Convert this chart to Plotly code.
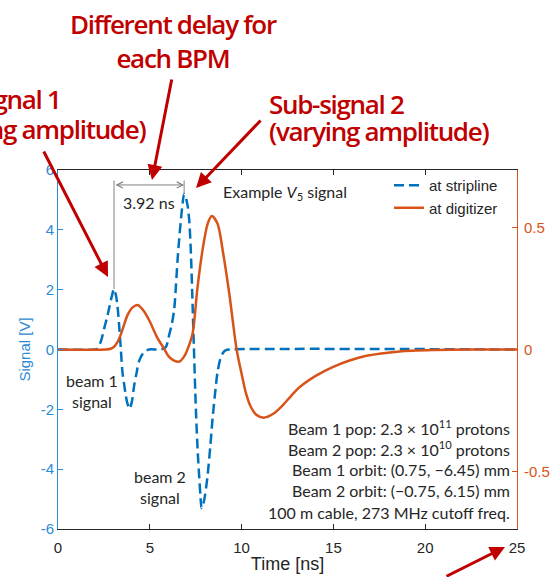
import plotly.graph_objects as go

# ---------------- data ----------------
stripline_t = [0.0, 2.0, 2.15, 2.35, 2.51, 2.65, 2.78, 2.92, 3.05, 3.16, 3.24, 3.33, 3.42,
               3.51, 3.6, 3.69, 3.78, 3.9, 4.02, 4.15, 4.29, 4.42, 4.69, 4.96, 5.6, 5.87,
               6.06, 6.2, 6.33, 6.42, 6.51, 6.6, 6.69, 6.78, 6.87, 6.95, 7.06, 7.15, 7.24,
               7.33, 7.4, 7.51, 7.6, 7.69, 7.76, 7.82, 7.9, 8.0, 8.15, 8.3, 8.42, 8.55,
               8.69, 8.85, 9.0, 9.15, 9.35, 25.0]
stripline_v = [0.0, 0.0, 0.03, 0.3, 0.69, 1.02, 1.36, 1.75, 2.02, 1.8, 1.45, 0.8, 0.03,
               -0.75, -1.15, -1.53, -1.8, -1.98, -1.75, -1.2, -0.75, -0.38, -0.08, 0.0, 0.0, 0.08,
               0.5, 0.85, 1.35, 2.1, 2.97, 3.7, 4.3, 4.85, 5.2, 5.1, 4.8, 4.3, 3.2,
               1.5, 0.1, -2.0, -3.3, -4.25, -4.9, -5.3, -5.2, -4.9, -4.2, -3.2, -2.3, -1.5,
               -0.75, -0.3, -0.1, -0.02, 0.0, 0.0]

digitizer_t = [0.0, 2.6, 2.87, 3.1, 3.33, 3.55, 3.78, 4.05, 4.36, 4.7, 5.0, 5.4, 5.78, 6.05,
               6.33, 6.6, 6.9, 7.1, 7.33, 7.6, 7.87, 8.15, 8.38, 8.69, 9.0, 9.33, 9.73, 10.0,
               10.24, 10.5, 10.8, 11.2, 11.7, 12.24, 12.7, 13.15, 14.06, 14.96, 15.88, 16.8,
               18.6, 20.5, 22.5, 25.0]
digitizer_v = [0.0, 0.0, 0.003, 0.015, 0.044, 0.09, 0.14, 0.172, 0.182, 0.155, 0.115, 0.05,
               0.003, -0.03, -0.046, -0.05, -0.025, 0.01, 0.065, 0.256, 0.407, 0.516, 0.548,
               0.516, 0.393, 0.229, 0.0, -0.1, -0.18, -0.235, -0.268, -0.28, -0.265, -0.229,
               -0.19, -0.155, -0.107, -0.072, -0.045, -0.026, -0.008, -0.002, 0.0, 0.0]

x_ticks = [0, 5, 10, 15, 20, 25]
y_ticks = [-6, -4, -2, 0, 2, 4, 6]
y_tick_text = ["-6", "-4", "-2", "0", "2", "4", "6"]
y2_ticks = [-0.5, 0, 0.5]
y2_tick_text = ["-0.5", "0", "0.5"]

delay_ns = 3.92
info_lines = [
    "Beam 1 pop: 2.3 × 10<sup>11</sup> protons",
    "Beam 2 pop: 2.3 × 10<sup>10</sup> protons",
    "Beam 1 orbit: (0.75, −6.45) mm",
    "Beam 2 orbit: (−0.75, 6.15) mm",
    "100 m cable, 273 MHz cutoff freq.",
]

# ---------------- styling ----------------
W, H = 552, 577
PL, PR, PT, PB = 58, 517, 170, 529
BLUE = "#0072BD"
BLUE_AX = "#2B8AD4"
ORANGE = "#D95319"
DARK = "#262626"
RED = "#C00000"
GRAY = "#808080"
AX_FONT = "Liberation Sans, Arial, sans-serif"
TXT_FONT = "Lato, 'Open Sans', sans-serif"
RED_FONT = "'Open Sans', sans-serif"


def fx(px):
    return (px - PL) / (PR - PL)


def fy(py):
    return (PB - py) / (PB - PT)


fig = go.Figure()
fig.add_trace(go.Scatter(x=stripline_t, y=stripline_v, mode="lines", name="at stripline",
                         line=dict(color=BLUE, width=2.5, dash="10px,5px", shape="spline",
                                   smoothing=0.8), yaxis="y"))
fig.add_trace(go.Scatter(x=digitizer_t, y=digitizer_v, mode="lines", name="at digitizer",
                         line=dict(color=ORANGE, width=2.5, shape="spline", smoothing=0.8),
                         yaxis="y2"))

# peaks of the stripline signal (from data)
i1 = max((i for i, t in enumerate(stripline_t) if t < 5), key=lambda i: stripline_v[i])
i2 = max((i for i, t in enumerate(stripline_t) if t >= 5), key=lambda i: stripline_v[i])
t1, v1 = stripline_t[i1], stripline_v[i1]
t2, v2 = stripline_t[i2], stripline_v[i2]
dim_y = 5.5

shapes = [
    dict(type="line", xref="x", yref="y", x0=t1, x1=t1, y0=v1, y1=5.65,
         line=dict(color=GRAY, width=1)),
    dict(type="line", xref="x", yref="y", x0=t2, x1=t2, y0=v2, y1=5.65,
         line=dict(color=GRAY, width=1)),
]

annotations = []


def label(px, py, text, size=16, anchor="center", color=DARK, family=TXT_FONT, weight=None,
          align="center"):
    f = dict(family=family, size=size, color=color)
    if weight:
        f["weight"] = weight
    annotations.append(dict(x=fx(px), y=fy(py), xref="paper", yref="paper", xanchor=anchor,
                            yanchor="middle", text=text, showarrow=False, font=f,
                            align=align))


# dimension arrow
annotations.append(dict(x=t2, y=dim_y, ax=t1, ay=dim_y, xref="x", yref="y", axref="x",
                        ayref="y", text="", showarrow=True, arrowhead=5, startarrowhead=5,
                        arrowside="end+start", arrowwidth=1, arrowsize=1.2, arrowcolor=GRAY))
label(149, 202, f"{delay_ns:.2f} ns")
label(221, 192, "Example <i>V</i><sub>5</sub> signal", anchor="left")
label(92, 391, "beam 1<br>signal")
label(160, 487, "beam 2<br>signal")
for k, line in enumerate(info_lines):
    label(512, 427 + k * 21.3, line, anchor="right")

# red callouts (two-line blocks; nominal size sets the line spacing)
RED_STYLE = "letter-spacing:-1.3px;font-size:26px"
red_blocks = [
    (("Different delay for", "each BPM"), 173, 41, "center", 26),
    (("Sub-signal 1", "(varying amplitude)"), -76, 114, "left", 23),
    (("Sub-signal 2", "(varying amplitude)"), 267, 118, "left", 21),
]
for lines, px, py, anc, nominal in red_blocks:
    txt = "<br>".join(f'<span style="{RED_STYLE}">{s}</span>' for s in lines)
    label(px, py, txt, size=nominal, anchor=anc, color=RED, family=RED_FONT, weight=600,
          align=anc)

red_arrows = [
    (108, 277, -65, -127),
    (152, 180, 20, -102),
    (196, 188, 66, -69),
    (505, 547, -60, 35),
]
for px, py, ax, ay in red_arrows:
    annotations.append(dict(x=fx(px), y=fy(py), xref="paper", yref="paper", ax=ax, ay=ay,
                            text="", showarrow=True, arrowhead=2, arrowsize=1,
                            arrowwidth=3, arrowcolor=RED))

fig.update_layout(
    width=W, height=H,
    margin=dict(l=PL, r=W - PR, t=PT, b=H - PB, autoexpand=False),
    paper_bgcolor="white", plot_bgcolor="white",
    font=dict(family=AX_FONT, size=15, color=DARK),
    showlegend=True,
    legend=dict(x=fx(503), y=fy(169), xanchor="right", yanchor="top",
                bgcolor="rgba(0,0,0,0)", font=dict(family=AX_FONT, size=15, color=DARK),
                tracegroupgap=0, itemwidth=30),
    xaxis=dict(range=[0, 25], tickvals=x_ticks, ticks="inside", ticklen=5, tickwidth=1,
               tickcolor=DARK, showline=True, linecolor=DARK, linewidth=1, mirror="ticks",
               showgrid=False, zeroline=False, automargin=False, ticklabelstandoff=5,
               title=dict(text="Time [ns]", standoff=2), tickfont=dict(size=15, color=DARK)),
    yaxis=dict(range=[-6, 6], tickvals=y_ticks, ticktext=y_tick_text, ticks="inside",
               ticklen=5, tickcolor=BLUE_AX, showline=True, linecolor=BLUE_AX, linewidth=1,
               showgrid=False, zeroline=False, automargin=False,
               tickfont=dict(size=15, color=BLUE_AX),
               title=dict(text="Signal [V]", font=dict(size=15, color=BLUE_AX), standoff=6)),
    yaxis2=dict(range=[-0.737, 0.737], tickvals=y2_ticks, ticktext=y2_tick_text,
                overlaying="y", side="right", ticks="inside", ticklen=5, tickcolor=ORANGE,
                showline=True, linecolor=ORANGE, linewidth=1, showgrid=False,
                zeroline=False, automargin=False, ticklabelstandoff=3,
                tickfont=dict(size=15, color=ORANGE)),
    shapes=shapes,
    annotations=annotations,
)

fig.write_html("out.html")
